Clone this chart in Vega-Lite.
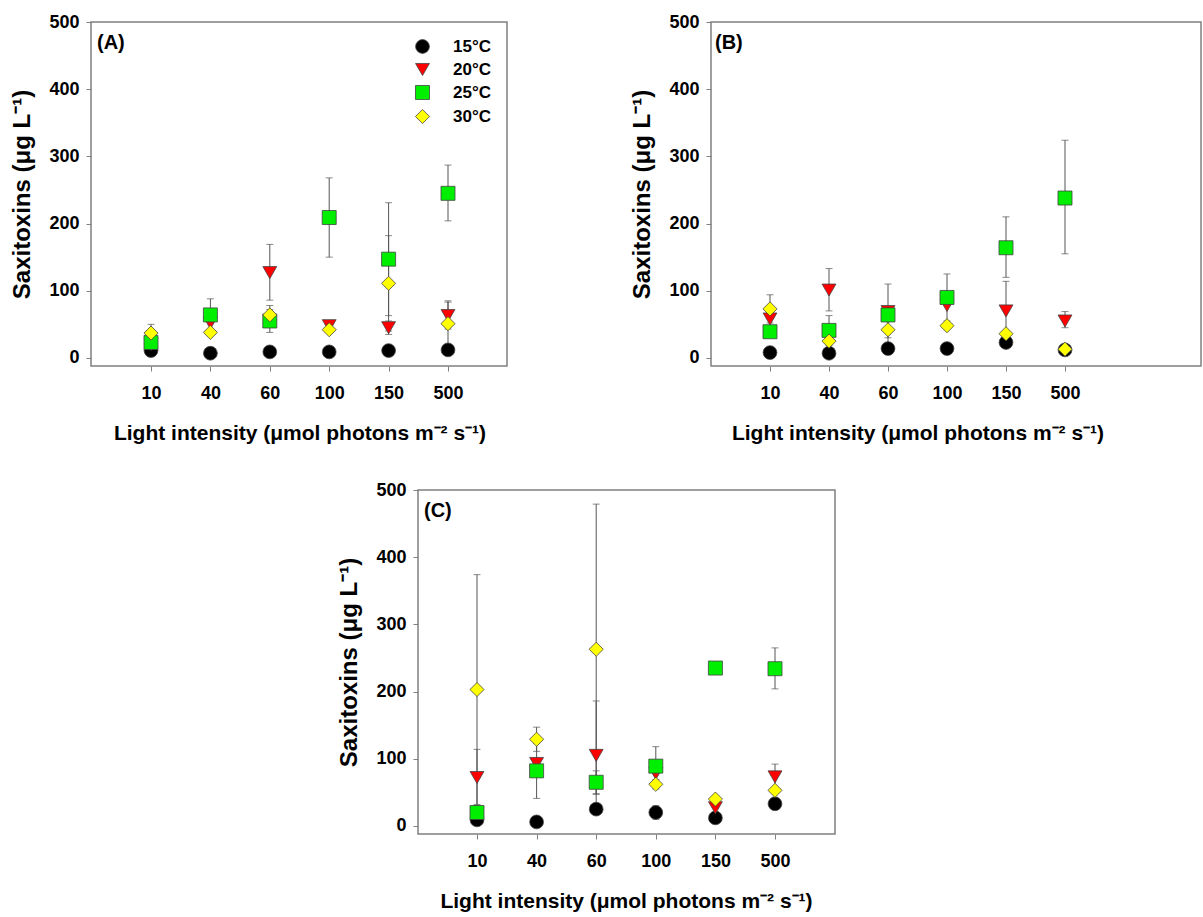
{
  "$schema": "https://vega.github.io/schema/vega-lite/v6.json",
  "padding": {"left": 10, "top": 12, "right": 2, "bottom": 2},
  "background": "white",
  "datasets": {
    "pts": [
      {"p": "A", "light": "10", "t": "15°C", "v": 11},
      {"p": "A", "light": "40", "t": "15°C", "v": 7},
      {"p": "A", "light": "60", "t": "15°C", "v": 9},
      {"p": "A", "light": "100", "t": "15°C", "v": 9},
      {"p": "A", "light": "150", "t": "15°C", "v": 11},
      {"p": "A", "light": "500", "t": "15°C", "v": 12},
      {"p": "A", "light": "10", "t": "20°C", "v": 20},
      {"p": "A", "light": "40", "t": "20°C", "v": 52, "lo": 42, "hi": 62},
      {"p": "A", "light": "60", "t": "20°C", "v": 127, "lo": 86, "hi": 169},
      {"p": "A", "light": "100", "t": "20°C", "v": 48, "lo": 44, "hi": 52},
      {"p": "A", "light": "150", "t": "20°C", "v": 45, "lo": 35, "hi": 55},
      {"p": "A", "light": "500", "t": "20°C", "v": 63, "lo": 43, "hi": 83},
      {"p": "A", "light": "10", "t": "25°C", "v": 23, "lo": 15, "hi": 31},
      {"p": "A", "light": "40", "t": "25°C", "v": 64, "lo": 40, "hi": 88},
      {"p": "A", "light": "60", "t": "25°C", "v": 55, "lo": 38, "hi": 72},
      {"p": "A", "light": "100", "t": "25°C", "v": 209, "lo": 150, "hi": 268},
      {"p": "A", "light": "150", "t": "25°C", "v": 147, "lo": 63, "hi": 231},
      {"p": "A", "light": "500", "t": "25°C", "v": 245, "lo": 204, "hi": 287},
      {"p": "A", "light": "10", "t": "30°C", "v": 37, "lo": 24, "hi": 50},
      {"p": "A", "light": "40", "t": "30°C", "v": 38},
      {"p": "A", "light": "60", "t": "30°C", "v": 64, "lo": 50, "hi": 78},
      {"p": "A", "light": "100", "t": "30°C", "v": 42},
      {"p": "A", "light": "150", "t": "30°C", "v": 111, "lo": 40, "hi": 182},
      {"p": "A", "light": "500", "t": "30°C", "v": 51, "lo": 17, "hi": 85},
      {"p": "B", "light": "10", "t": "15°C", "v": 8},
      {"p": "B", "light": "40", "t": "15°C", "v": 7},
      {"p": "B", "light": "60", "t": "15°C", "v": 14},
      {"p": "B", "light": "100", "t": "15°C", "v": 14},
      {"p": "B", "light": "150", "t": "15°C", "v": 23},
      {"p": "B", "light": "500", "t": "15°C", "v": 12},
      {"p": "B", "light": "10", "t": "20°C", "v": 58, "lo": 48, "hi": 68},
      {"p": "B", "light": "40", "t": "20°C", "v": 101, "lo": 70, "hi": 133},
      {"p": "B", "light": "60", "t": "20°C", "v": 69},
      {"p": "B", "light": "100", "t": "20°C", "v": 78},
      {"p": "B", "light": "150", "t": "20°C", "v": 70, "lo": 26, "hi": 114},
      {"p": "B", "light": "500", "t": "20°C", "v": 55, "lo": 45, "hi": 69},
      {"p": "B", "light": "10", "t": "25°C", "v": 39},
      {"p": "B", "light": "40", "t": "25°C", "v": 41, "lo": 19, "hi": 63},
      {"p": "B", "light": "60", "t": "25°C", "v": 64, "lo": 18, "hi": 110},
      {"p": "B", "light": "100", "t": "25°C", "v": 90, "lo": 55, "hi": 125},
      {"p": "B", "light": "150", "t": "25°C", "v": 164, "lo": 120, "hi": 210},
      {"p": "B", "light": "500", "t": "25°C", "v": 238, "lo": 155, "hi": 324},
      {"p": "B", "light": "10", "t": "30°C", "v": 73, "lo": 52, "hi": 94},
      {"p": "B", "light": "40", "t": "30°C", "v": 25},
      {"p": "B", "light": "60", "t": "30°C", "v": 42, "lo": 30, "hi": 54},
      {"p": "B", "light": "100", "t": "30°C", "v": 48},
      {"p": "B", "light": "150", "t": "30°C", "v": 36},
      {"p": "B", "light": "500", "t": "30°C", "v": 13},
      {"p": "C", "light": "10", "t": "15°C", "v": 9},
      {"p": "C", "light": "40", "t": "15°C", "v": 6},
      {"p": "C", "light": "60", "t": "15°C", "v": 25},
      {"p": "C", "light": "100", "t": "15°C", "v": 20, "lo": 10, "hi": 30},
      {"p": "C", "light": "150", "t": "15°C", "v": 12},
      {"p": "C", "light": "500", "t": "15°C", "v": 33},
      {"p": "C", "light": "10", "t": "20°C", "v": 72, "lo": 30, "hi": 114},
      {"p": "C", "light": "40", "t": "20°C", "v": 93, "lo": 85, "hi": 101},
      {"p": "C", "light": "60", "t": "20°C", "v": 105, "lo": 25, "hi": 186},
      {"p": "C", "light": "100", "t": "20°C", "v": 78},
      {"p": "C", "light": "150", "t": "20°C", "v": 27, "lo": 20, "hi": 34},
      {"p": "C", "light": "500", "t": "20°C", "v": 73, "lo": 54, "hi": 92},
      {"p": "C", "light": "10", "t": "25°C", "v": 20, "lo": 10, "hi": 30},
      {"p": "C", "light": "40", "t": "25°C", "v": 82, "lo": 41, "hi": 123},
      {"p": "C", "light": "60", "t": "25°C", "v": 65, "lo": 48, "hi": 82},
      {"p": "C", "light": "100", "t": "25°C", "v": 89, "lo": 61, "hi": 118},
      {"p": "C", "light": "150", "t": "25°C", "v": 235},
      {"p": "C", "light": "500", "t": "25°C", "v": 234, "lo": 204, "hi": 265},
      {"p": "C", "light": "10", "t": "30°C", "v": 203, "lo": 32, "hi": 374},
      {"p": "C", "light": "40", "t": "30°C", "v": 129, "lo": 111, "hi": 147},
      {"p": "C", "light": "60", "t": "30°C", "v": 263, "lo": 47, "hi": 479},
      {"p": "C", "light": "100", "t": "30°C", "v": 62, "lo": 55, "hi": 69},
      {"p": "C", "light": "150", "t": "30°C", "v": 40},
      {"p": "C", "light": "500", "t": "30°C", "v": 53}
    ]
  },
  "data": {"name": "pts"},
  "vconcat": [
    {
      "hconcat": [
        {
          "width": 416, "height": 344,
          "title": {"text": "(A)", "anchor": "start", "frame": "group", "orient": "top", "offset": -40, "dx": 6, "fontSize": 20, "fontWeight": "bold", "font": "Liberation Sans", "color": "#000"},
          "transform": [{"filter": "datum.p == 'A'"}],
          "encoding": {
            "x": {"field": "light", "type": "ordinal", "sort": ["10", "40", "60", "100", "150", "500"], "scale": {"type": "point", "padding": 0, "range": [60, 357]}, "axis": {"title": "Light intensity (μmol photons m⁻² s⁻¹)"}}
          },
          "layer": [
            {"transform": [{"filter": "isValid(datum.lo)"}], "mark": {"type": "rule", "color": "#555", "strokeWidth": 1}, "encoding": {"y": {"field": "lo", "type": "quantitative", "scale": {"domain": [-12, 500], "nice": false, "zero": false}, "axis": {"title": "Saxitoxins (μg L⁻¹)", "values": [0, 100, 200, 300, 400, 500]}}, "y2": {"field": "hi"}}},
            {"transform": [{"filter": "isValid(datum.lo)"}], "mark": {"type": "tick", "color": "#555", "size": 7, "thickness": 1}, "encoding": {"y": {"field": "lo", "type": "quantitative"}}},
            {"transform": [{"filter": "isValid(datum.hi)"}], "mark": {"type": "tick", "color": "#555", "size": 7, "thickness": 1}, "encoding": {"y": {"field": "hi", "type": "quantitative"}}},
            {"mark": {"type": "point", "filled": true, "opacity": 1, "stroke": "#444", "strokeWidth": 0.8},
             "encoding": {
               "y": {"field": "v", "type": "quantitative"},
               "color": {"field": "t", "type": "nominal", "scale": {"domain": ["15°C", "20°C", "25°C", "30°C"], "range": ["#000000", "#ff0000", "#00ee00", "#ffff00"]}, "legend": {"orient": "none", "legendX": 323, "legendY": 16, "title": null, "labelFontSize": 17, "labelFontWeight": "bold", "labelFont": "Liberation Sans", "labelColor": "#000", "labelOffset": 22, "rowPadding": 5, "symbolSize": 190, "symbolStrokeColor": "#444", "symbolStrokeWidth": 0.8}},
               "shape": {"field": "t", "type": "nominal", "scale": {"domain": ["15°C", "20°C", "25°C", "30°C"], "range": ["circle", "triangle-down", "square", "diamond"]}, "legend": {"orient": "none", "legendX": 323, "legendY": 16, "title": null, "labelFontSize": 17, "labelFontWeight": "bold", "labelFont": "Liberation Sans", "labelColor": "#000", "labelOffset": 22, "rowPadding": 5, "symbolSize": 190, "symbolStrokeColor": "#444", "symbolStrokeWidth": 0.8}},
               "size": {"field": "t", "type": "nominal", "scale": {"domain": ["15°C", "20°C", "25°C", "30°C"], "range": [190, 200, 180, 280]}, "legend": null}
             }}
          ]
        },
        {
          "width": 490, "height": 344,
          "title": {"text": "(B)", "anchor": "start", "frame": "group", "orient": "top", "offset": -40, "dx": 4, "fontSize": 20, "fontWeight": "bold", "font": "Liberation Sans", "color": "#000"},
          "transform": [{"filter": "datum.p == 'B'"}],
          "encoding": {
            "x": {"field": "light", "type": "ordinal", "sort": ["10", "40", "60", "100", "150", "500"], "scale": {"type": "point", "padding": 0, "range": [59, 354]}, "axis": {"title": "Light intensity (μmol photons m⁻² s⁻¹)"}}
          },
          "layer": [
            {"transform": [{"filter": "isValid(datum.lo)"}], "mark": {"type": "rule", "color": "#555", "strokeWidth": 1}, "encoding": {"y": {"field": "lo", "type": "quantitative", "scale": {"domain": [-12, 500], "nice": false, "zero": false}, "axis": {"title": "Saxitoxins (μg L⁻¹)", "values": [0, 100, 200, 300, 400, 500]}}, "y2": {"field": "hi"}}},
            {"transform": [{"filter": "isValid(datum.lo)"}], "mark": {"type": "tick", "color": "#555", "size": 7, "thickness": 1}, "encoding": {"y": {"field": "lo", "type": "quantitative"}}},
            {"transform": [{"filter": "isValid(datum.hi)"}], "mark": {"type": "tick", "color": "#555", "size": 7, "thickness": 1}, "encoding": {"y": {"field": "hi", "type": "quantitative"}}},
            {"mark": {"type": "point", "filled": true, "opacity": 1, "stroke": "#444", "strokeWidth": 0.8},
             "encoding": {
               "y": {"field": "v", "type": "quantitative"},
               "color": {"field": "t", "type": "nominal", "scale": {"domain": ["15°C", "20°C", "25°C", "30°C"], "range": ["#000000", "#ff0000", "#00ee00", "#ffff00"]}, "legend": null},
               "shape": {"field": "t", "type": "nominal", "scale": {"domain": ["15°C", "20°C", "25°C", "30°C"], "range": ["circle", "triangle-down", "square", "diamond"]}, "legend": null},
               "size": {"field": "t", "type": "nominal", "scale": {"domain": ["15°C", "20°C", "25°C", "30°C"], "range": [190, 200, 180, 280]}, "legend": null}
             }}
          ]
        }
      ],
      "spacing": 122,
      "resolve": {"legend": {"color": "independent", "shape": "independent", "size": "independent"}}
    },
    {
      "hconcat": [
        {"width": 226, "height": 10, "data": {"values": []}, "mark": "rule", "encoding": {}, "view": {"stroke": null}},
        {
          "width": 417, "height": 344,
          "title": {"text": "(C)", "anchor": "start", "frame": "group", "orient": "top", "offset": -40, "dx": 6, "fontSize": 20, "fontWeight": "bold", "font": "Liberation Sans", "color": "#000"},
          "transform": [{"filter": "datum.p == 'C'"}],
          "encoding": {
            "x": {"field": "light", "type": "ordinal", "sort": ["10", "40", "60", "100", "150", "500"], "scale": {"type": "point", "padding": 0, "range": [59, 357]}, "axis": {"title": "Light intensity (μmol photons m⁻² s⁻¹)"}}
          },
          "layer": [
            {"transform": [{"filter": "isValid(datum.lo)"}], "mark": {"type": "rule", "color": "#555", "strokeWidth": 1}, "encoding": {"y": {"field": "lo", "type": "quantitative", "scale": {"domain": [-12, 500], "nice": false, "zero": false}, "axis": {"title": "Saxitoxins (μg L⁻¹)", "values": [0, 100, 200, 300, 400, 500]}}, "y2": {"field": "hi"}}},
            {"transform": [{"filter": "isValid(datum.lo)"}], "mark": {"type": "tick", "color": "#555", "size": 7, "thickness": 1}, "encoding": {"y": {"field": "lo", "type": "quantitative"}}},
            {"transform": [{"filter": "isValid(datum.hi)"}], "mark": {"type": "tick", "color": "#555", "size": 7, "thickness": 1}, "encoding": {"y": {"field": "hi", "type": "quantitative"}}},
            {"mark": {"type": "point", "filled": true, "opacity": 1, "stroke": "#444", "strokeWidth": 0.8},
             "encoding": {
               "y": {"field": "v", "type": "quantitative"},
               "color": {"field": "t", "type": "nominal", "scale": {"domain": ["15°C", "20°C", "25°C", "30°C"], "range": ["#000000", "#ff0000", "#00ee00", "#ffff00"]}, "legend": null},
               "shape": {"field": "t", "type": "nominal", "scale": {"domain": ["15°C", "20°C", "25°C", "30°C"], "range": ["circle", "triangle-down", "square", "diamond"]}, "legend": null},
               "size": {"field": "t", "type": "nominal", "scale": {"domain": ["15°C", "20°C", "25°C", "30°C"], "range": [190, 200, 180, 280]}, "legend": null}
             }}
          ]
        }
      ],
      "spacing": 20,
      "resolve": {"legend": {"color": "independent", "shape": "independent", "size": "independent"}}
    }
  ],
  "spacing": 36,
  "resolve": {"legend": {"color": "independent", "shape": "independent", "size": "independent"}},
  "config": {
    "font": "Liberation Sans",
    "view": {"stroke": "#808080", "strokeWidth": 1.5},
    "axis": {"domain": false, "ticks": true, "tickColor": "#808080", "tickSize": 5, "tickWidth": 1, "grid": false, "labelFont": "Liberation Sans", "labelFontSize": 18, "labelFontWeight": "bold", "labelColor": "#000", "titleFont": "Liberation Sans", "titleFontWeight": "bold", "titleColor": "#000"},
    "axisX": {"labelAngle": 0, "labelPadding": 13, "titlePadding": 20, "titleFontSize": 21},
    "axisY": {"labelPadding": 7, "titlePadding": 14, "titleFontSize": 24}
  }
}
